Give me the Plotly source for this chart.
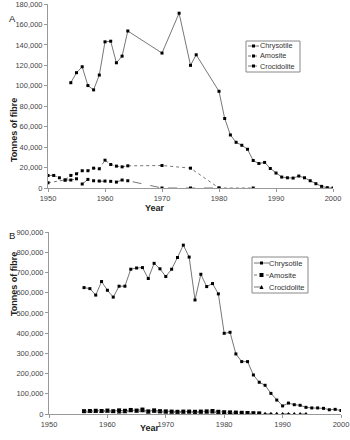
import plotly.graph_objects as go

# ---------------- Panel A data ----------------
a_chry_years = [1954, 1955, 1956, 1957, 1958, 1959, 1960, 1961, 1962, 1963, 1964, 1970,
                1973, 1975, 1976, 1980, 1981, 1982, 1983, 1984, 1985, 1986, 1987, 1988,
                1989, 1990, 1991, 1992, 1993, 1994, 1995, 1996, 1997, 1998, 1999, 2000]
a_chry_vals = [103000, 112800, 118600, 100200, 96000, 110500, 143000, 143600, 122500, 129000,
               153600, 132000, 171000, 120000, 130300, 94600, 68000, 51900, 44700, 41800,
               37900, 26900, 24000, 25000, 19100, 14600, 10700, 10000, 9700, 11700, 10000,
               7100, 4200, 1600, 300, 0]

a_amo_years = [1950, 1953, 1954, 1955, 1956, 1957, 1958, 1959, 1960, 1961, 1962, 1963,
               1964, 1970, 1975, 1980, 1986]
a_amo_vals = [5200, 7800, 12300, 13900, 16900, 16900, 19400, 18800, 27200, 23000, 21400,
              20700, 21700, 22000, 19400, 0, 0]

a_cro_years = [1950, 1951, 1952, 1953, 1954, 1955, 1956, 1957, 1958, 1959, 1960, 1961,
               1962, 1963, 1964, 1970, 1975, 1980]
a_cro_vals = [12300, 12300, 10000, 7800, 7800, 9000, 3900, 8400, 7100, 6800, 6800, 6500,
              5800, 7800, 7100, 0, 0, 0]

# ---------------- Panel B data ----------------
b_chry_years = list(range(1956, 2001))
b_chry_vals = [625000, 620000, 588000, 655000, 612000, 578000, 632000, 632000, 716000,
               722000, 724000, 670000, 745000, 718000, 680000, 716000, 774000, 835000,
               776000, 564000, 691000, 630000, 645000, 594000, 399000, 404000, 297000,
               259000, 259000, 193000, 157000, 142000, 102000, 69000, 40000, 54000,
               46000, 43000, 33000, 30000, 30000, 28000, 21000, 23000, 17000]

b_amo_years = list(range(1956, 1987))
b_amo_vals = [14000, 15000, 16000, 15000, 17000, 14000, 18000, 16000, 20000, 17000,
              22000, 13000, 18000, 14000, 13000, 12000, 11000, 12000, 12000, 11000,
              12000, 13000, 15000, 11000, 9000, 8000, 7000, 6000, 5000, 4000, 3000]

b_cro_years = list(range(1956, 1995))
b_cro_vals = [10000, 12000, 11000, 12000, 12000, 10000, 8000, 9000, 14000, 12000,
              14000, 8000, 11000, 9000, 8000, 8000, 7000, 8000, 9000, 8000, 7000, 8000,
              8000, 6000, 5000, 5000, 4000, 3000, 3000, 2000, 2000, 1000, 1000, 1000,
              0, 0, 0, 0, 0]

series_names = ["Chrysotile", "Amosite", "Crocidolite"]

W, H = 350, 440
LINE = "#777777"
FONT = "Liberation Sans, Arial, sans-serif"
DASHES = ["solid", "dot", "dash"]

def px_x(p):
    return p / W

def px_y(p):
    return 1 - p / H

fig = go.Figure()

a_sets = [(a_chry_years, a_chry_vals), (a_amo_years, a_amo_vals), (a_cro_years, a_cro_vals)]
for name, dash, (xs, ys) in zip(series_names, DASHES, a_sets):
    fig.add_trace(go.Scatter(x=xs, y=ys, name=name, mode="lines+markers", showlegend=False,
                             line=dict(color=LINE, width=1, dash=dash),
                             marker=dict(symbol="square", size=3, color="black"),
                             xaxis="x", yaxis="y"))

b_sets = [(b_chry_years, b_chry_vals), (b_amo_years, b_amo_vals), (b_cro_years, b_cro_vals)]
b_symbols = ["square", "square", "triangle-up"]
b_sizes = [3, 4, 4]
for name, dash, sym, sz, (xs, ys) in zip(series_names, DASHES, b_symbols, b_sizes, b_sets):
    fig.add_trace(go.Scatter(x=xs, y=ys, name=name, mode="lines+markers", showlegend=False,
                             line=dict(color=LINE, width=1, dash=dash),
                             marker=dict(symbol=sym, size=sz, color="black"),
                             xaxis="x2", yaxis="y2"))

axis_common = dict(showgrid=False, zeroline=False, showline=True, linecolor="#999999", linewidth=1,
                   ticks="outside", ticklen=3, tickcolor="#999999", automargin=False,
                   ticklabeloverflow="allow",
                   tickfont=dict(family=FONT, size=7.5, color="#444444"))

fig.update_layout(
    width=W, height=H, margin=dict(l=0, r=0, t=0, b=0, autoexpand=False),
    paper_bgcolor="white", plot_bgcolor="white",
    font=dict(family=FONT, size=8, color="#333333"),
    showlegend=False,
    xaxis=dict(domain=[px_x(48), px_x(333)], range=[1950, 2000], anchor="y", dtick=10, **axis_common),
    yaxis=dict(domain=[px_y(188), px_y(4)], range=[0, 180000], anchor="x", dtick=20000,
               tickformat=",d", **axis_common),
    xaxis2=dict(domain=[px_x(49), px_x(341)], range=[1950, 2000], anchor="y2", dtick=10, **axis_common),
    yaxis2=dict(domain=[px_y(414), px_y(232)], range=[0, 900000], anchor="x2", dtick=100000,
                tickformat=",d", **axis_common),
)

annotations = [
    dict(text="A", x=px_x(8), y=px_y(12), xref="paper", yref="paper", showarrow=False,
         borderpad=0, font=dict(family=FONT, size=9.5, color="#222222")),
    dict(text="B", x=px_x(8), y=px_y(235), xref="paper", yref="paper", showarrow=False,
         borderpad=0, font=dict(family=FONT, size=9.5, color="#222222")),
    dict(text="<b>Year</b>", x=px_x(155), y=px_y(208), xref="paper", yref="paper", showarrow=False,
         font=dict(family=FONT, size=9, color="#222222")),
    dict(text="<b>Year</b>", x=px_x(150), y=px_y(435), xref="paper", yref="paper", showarrow=False,
         font=dict(family=FONT, size=9, color="#222222")),
    dict(text="<b>Tonnes of fibre</b>", x=px_x(7), y=px_y(96), xref="paper", yref="paper", showarrow=False,
         textangle=-90, font=dict(family=FONT, size=9, color="#222222")),
    dict(text="<b>Tonnes of fibre</b>", x=px_x(7), y=px_y(318), xref="paper", yref="paper", showarrow=False,
         textangle=-90, font=dict(family=FONT, size=9, color="#222222")),
]
shapes = []

def add_legend(box, rows, x0, x1, xm, xt, fsize, symbols, msize):
    bx0, by0, bx1, by1 = box
    shapes.append(dict(type="rect", xref="paper", yref="paper",
                       x0=px_x(bx0), x1=px_x(bx1), y0=px_y(by1), y1=px_y(by0),
                       line=dict(color="#888888", width=1), fillcolor="white", layer="above"))
    for name, dash, sym, ms, yc in zip(series_names, DASHES, symbols, msize, rows):
        shapes.append(dict(type="line", xref="paper", yref="paper",
                           x0=px_x(x0), x1=px_x(x1), y0=px_y(yc), y1=px_y(yc),
                           line=dict(color=LINE, width=1, dash=dash), layer="above"))
        h = ms / 2
        if sym == "square":
            shapes.append(dict(type="rect", xref="paper", yref="paper",
                               x0=px_x(xm - h), x1=px_x(xm + h), y0=px_y(yc + h), y1=px_y(yc - h),
                               line=dict(width=0), fillcolor="black", layer="above"))
        else:
            path = "M {a},{b} L {c},{d} L {e},{f} Z".format(
                a=px_x(xm - h), b=px_y(yc + h), c=px_x(xm + h), d=px_y(yc + h),
                e=px_x(xm), f=px_y(yc - h))
            shapes.append(dict(type="path", xref="paper", yref="paper", path=path,
                               line=dict(width=0), fillcolor="black", layer="above"))
        annotations.append(dict(text=name, x=px_x(xt), y=px_y(yc), xref="paper", yref="paper",
                                xanchor="left", yanchor="middle", showarrow=False,
                                xshift=-1, font=dict(family=FONT, size=fsize, color="#333333")))

add_legend((246, 41, 300, 72), [46, 56, 66], 248, 259, 253.5, 259, 7.3,
           ["square", "square", "square"], [3, 3, 3])
add_legend((252, 257, 308, 293), [263, 275, 287], 254, 269, 261.5, 268, 7.5,
           ["square", "square", "triangle"], [3, 4, 4])

fig.update_layout(annotations=annotations, shapes=shapes)

fig.write_html("out.html")
